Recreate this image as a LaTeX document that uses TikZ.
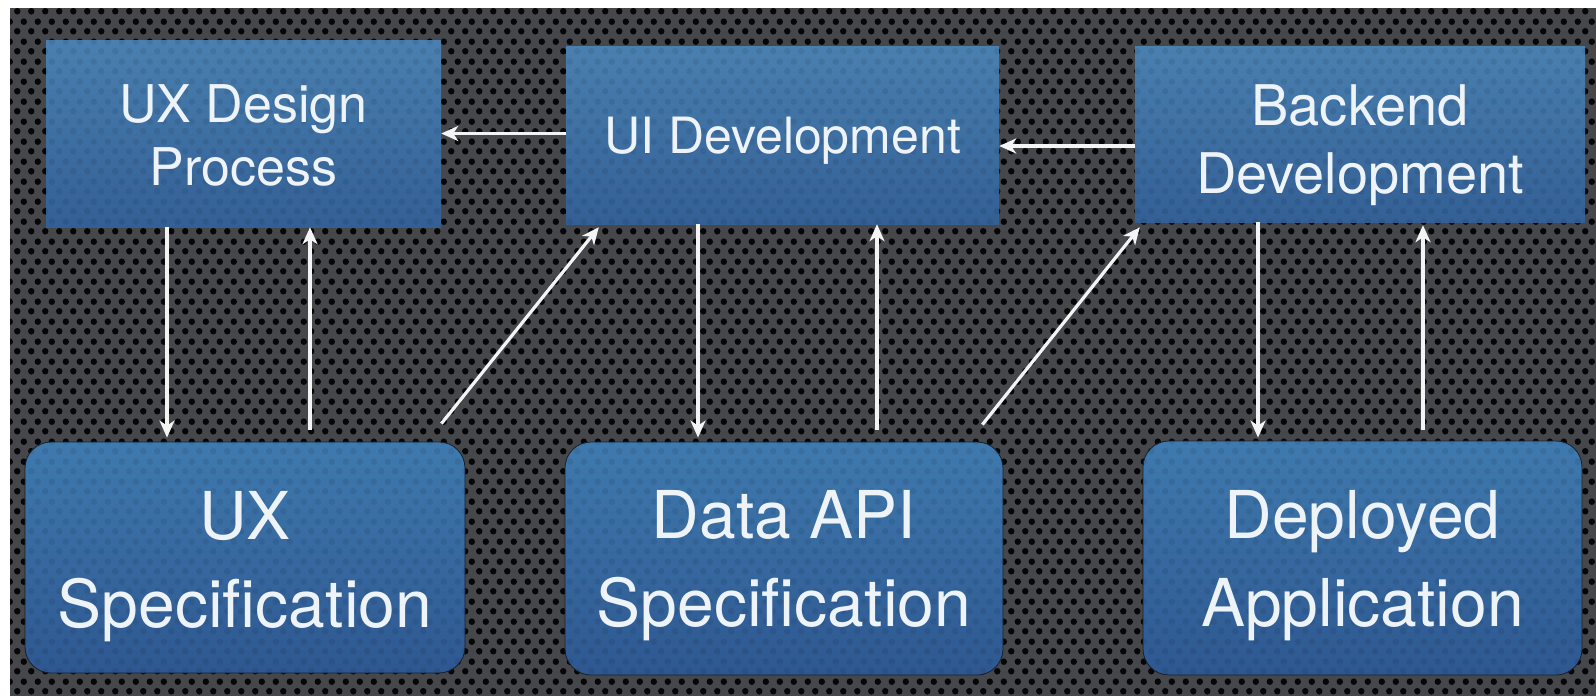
\documentclass[tikz,border=0pt]{standalone}
\usepackage{fontspec}
\setmainfont{TeX Gyre Heros}
\usetikzlibrary{arrows.meta,patterns,calc}

% perforated-metal texture: staggered rows of round holes
\pgfdeclarepatternformonly{perforation}{\pgfpointorigin}{\pgfpoint{14pt}{20pt}}{\pgfpoint{14pt}{20pt}}{%
  \pgfpathcircle{\pgfpoint{3.5pt}{5pt}}{3.45pt}%
  \pgfpathcircle{\pgfpoint{10.5pt}{15pt}}{3.45pt}%
  \pgfusepath{fill}}

\definecolor{bgbase}{HTML}{46474B}
\definecolor{holes}{HTML}{060607}
\definecolor{boxtop}{HTML}{4A80B0}
\definecolor{boxbot}{HTML}{335F95}
\definecolor{spectop}{HTML}{3F7AAE}
\definecolor{specbot}{HTML}{2E5790}
\definecolor{labelwhite}{HTML}{EEF3F7}
\definecolor{arrowwhite}{HTML}{F4F4F4}

\tikzset{
  stagebox/.style={rectangle, draw=none, top color=boxtop, bottom color=boxbot,
    text=labelwhite, align=center, inner sep=0pt, text depth=0pt,
    postaction={pattern=perforation, pattern color=black, fill opacity=.08}},
  specbox/.style={stagebox, top color=spectop, bottom color=specbot,
    rounded corners=26pt, draw={rgb,255:red,22;green,32;blue,46}, line width=0.8pt},
  topfont/.style={font=\fontsize{52}{63}\selectfont},
  specfont/.style={font=\fontsize{66}{88}\selectfont},
  flow/.style={draw=arrowwhite, line width=3.2pt,
    -{Stealth[length=17pt,width=15pt,inset=5pt]}},
}

\begin{document}
\begin{tikzpicture}[x=1pt,y=-1pt]
\useasboundingbox (0,0) rectangle (1596,696);
\fill[white] (0,0) rectangle (1596,696);
\fill[bgbase] (10,8) rectangle (1596,696);
\fill[pattern=perforation, pattern color=holes] (10,8) rectangle (1596,696);

% development stages (top row)
\node[stagebox, topfont, minimum width=395pt, minimum height=187pt, text height=103pt]
  (uxd) at (243.5,133.5) {UX Design\\Process};
\node[stagebox, font=\fontsize{50}{60}\selectfont, minimum width=433pt, minimum height=178pt, text height=36pt]
  (uid) at (782.5,135) {UI Development};
\node[stagebox, font=\fontsize{56}{68}\selectfont, minimum width=450pt, minimum height=176pt, text height=118pt]
  (bkd) at (1360,134) {Backend\\Development};

% deliverables (bottom row)
\node[specbox, specfont, minimum width=440pt, minimum height=231pt, text height=139pt]
  (uxs) at (245,557.5) {UX\\Specification};
\node[specbox, specfont, minimum width=438pt, minimum height=233pt, text height=135pt]
  (api) at (784,558.5) {Data API\\Specification};
\node[specbox, specfont, minimum width=439pt, minimum height=234pt, text height=136pt]
  (dep) at (1362.5,558) {Deployed\\Application};

% feedback along the top row
\draw[flow] ([yshift=1.5pt]uid.west) -- ([yshift=1.5pt]uid.west -| uxd.east);
\draw[flow] ([yshift=-12pt]bkd.west) -- ([yshift=-12pt]bkd.west -| uid.east);

% UX design <-> UX specification
\draw[flow, shorten >=4pt] ([xshift=-76.5pt]uxd.south) -- ([xshift=-76.5pt]uxd.south |- uxs.north);
\draw[flow, shorten <=12pt] ([xshift=66.5pt]uxd.south |- uxs.north) -- ([xshift=66.5pt]uxd.south);

% UX specification -> UI development
\draw[flow] ($(uxs.north east)+(-24,-18)$) -- ($(uid.south west)+(33,3)$);

% UI development <-> data API specification
\draw[flow, shorten >=4pt] ([xshift=-84.5pt]uid.south) -- ([xshift=-84.5pt]uid.south |- api.north);
\draw[flow, shorten <=12pt] ([xshift=94.5pt]uid.south |- api.north) -- ([xshift=94.5pt]uid.south);

% data API specification -> backend development
\draw[flow] ($(api.north east)+(-21,-17)$) -- ($(bkd.south west)+(5,5)$);

% backend development <-> deployed application
\draw[flow, shorten >=3pt] ([xshift=-102pt]bkd.south) -- ([xshift=-102pt]bkd.south |- dep.north);
\draw[flow, shorten <=11pt, shorten >=3pt] ([xshift=63pt]bkd.south |- dep.north) -- ([xshift=63pt]bkd.south);
\end{tikzpicture}
\end{document}
